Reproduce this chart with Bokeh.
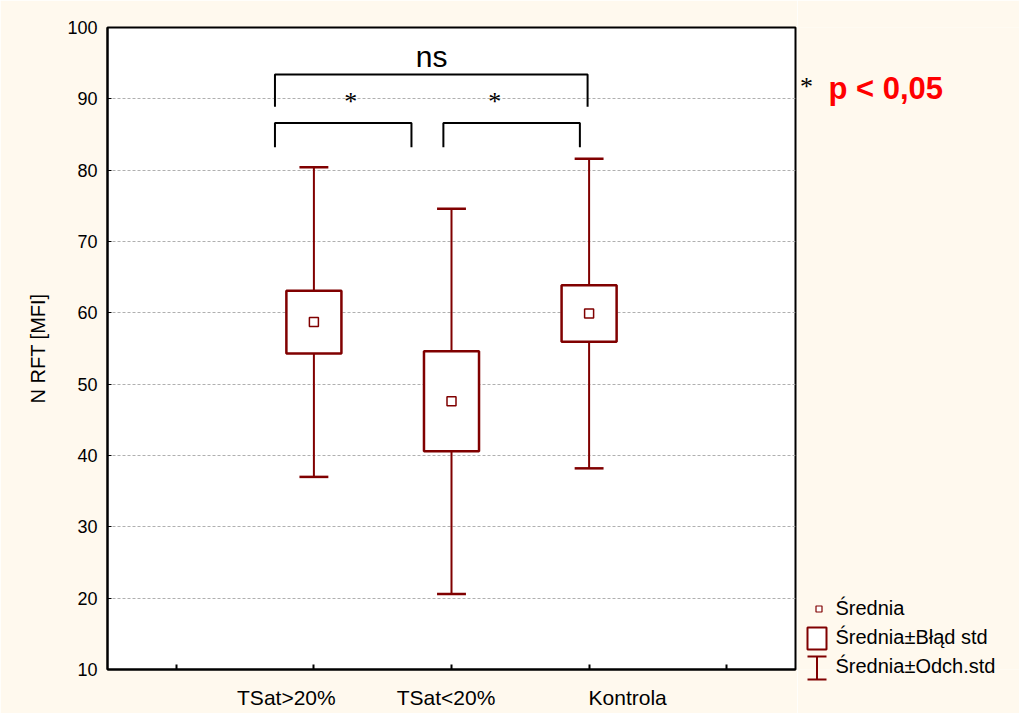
from bokeh.plotting import figure
from bokeh.models import FixedTicker, Range1d
from bokeh.layouts import row
from bokeh.core.properties import value
from bokeh.embed import file_html
from bokeh.resources import INLINE

# --- data -------------------------------------------------------------
groups = ["TSat>20%", "TSat<20%", "Kontrola"]
group_x = [2, 3, 4]                 # category positions on the x scale
means = [58.7, 47.6, 59.9]          # Średnia
se = [4.4, 7.0, 3.95]               # Błąd std
sd = [21.7, 27.0, 21.7]             # Odch. std

label_x = [1.80, 2.96, 4.28]        # where the category names are printed
minor_x = [1, 2, 3, 4, 5]
y_ticks = [10, 20, 30, 40, 50, 60, 70, 80, 90, 100]

# significance brackets (x, y in data units)
bracket_xs = [[1.717, 1.717, 3.989, 3.989],
              [1.717, 1.717, 2.709, 2.709],
              [2.941, 2.941, 3.933, 3.933]]
bracket_ys = [[88.9, 93.4, 93.4, 88.9],
              [83.2, 86.6, 86.6, 83.2],
              [83.2, 86.6, 86.6, 83.2]]
sig_text = ["ns", "*", "*"]
sig_x = [2.856, 2.267, 3.315]
sig_y = [96.0, 89.6, 89.6]

# --- style ------------------------------------------------------------
MAROON = "#800000"
CREAM = "#FFF9EE"
FONT = "Liberation Sans"
box_half = 0.2
cap_half = 0.105

lo_sd = [m - s for m, s in zip(means, sd)]
hi_sd = [m + s for m, s in zip(means, sd)]
lo_se = [m - s for m, s in zip(means, se)]
hi_se = [m + s for m, s in zip(means, se)]

p = figure(width=797, height=713, x_range=Range1d(0.5, 5.5), y_range=Range1d(10, 100),
           output_backend="svg", toolbar_location=None,
           min_border_left=107, min_border_right=2, min_border_top=27, min_border_bottom=44)
p.background_fill_color = "white"
p.border_fill_color = CREAM
p.outline_line_color = "black"
p.outline_line_width = 2

# axes
p.xaxis.ticker = FixedTicker(ticks=label_x, minor_ticks=minor_x)
p.xaxis.major_label_overrides = {x: g for x, g in zip(label_x, groups)}
p.xaxis.major_tick_in = 0
p.xaxis.major_tick_out = 0
p.xaxis.minor_tick_in = 5
p.xaxis.minor_tick_out = 0
p.xaxis.minor_tick_line_color = "black"
p.xaxis.minor_tick_line_width = 2
p.xaxis.axis_line_width = 2
p.xaxis.major_label_standoff = 16
p.xaxis.major_label_text_font = FONT
p.xaxis.major_label_text_font_size = "21px"
p.xaxis.major_label_text_color = "black"

p.yaxis.ticker = FixedTicker(ticks=y_ticks, minor_ticks=[])
p.yaxis.major_tick_in = 4
p.yaxis.major_tick_out = 0
p.yaxis.major_tick_line_width = 1
p.yaxis.axis_line_width = 2
p.yaxis.major_label_standoff = 10
p.yaxis.major_label_text_font = FONT
p.yaxis.major_label_text_font_size = "18px"
p.yaxis.major_label_text_color = "black"
p.yaxis.axis_label = "N RFT [MFI]"
p.yaxis.axis_label_text_font = FONT
p.yaxis.axis_label_text_font_size = "20px"
p.yaxis.axis_label_text_font_style = "normal"
p.yaxis.axis_label_text_color = "black"
p.yaxis.axis_label_standoff = 15

p.xgrid.visible = False
p.ygrid.ticker = FixedTicker(ticks=y_ticks)
p.ygrid.grid_line_color = "#b0b0b0"
p.ygrid.grid_line_dash = "3 2"
p.ygrid.grid_line_width = 1

# whiskers (mean ± SD) with caps
p.segment(x0=group_x, y0=lo_sd, x1=group_x, y1=hi_sd, line_color=MAROON, line_width=2)
cap_l = [x - cap_half for x in group_x]
cap_r = [x + cap_half for x in group_x]
p.segment(x0=cap_l, y0=hi_sd, x1=cap_r, y1=hi_sd, line_color=MAROON, line_width=2.5)
p.segment(x0=cap_l, y0=lo_sd, x1=cap_r, y1=lo_sd, line_color=MAROON, line_width=2.5)

# boxes (mean ± SE)
p.quad(left=[x - box_half for x in group_x], right=[x + box_half for x in group_x],
       bottom=lo_se, top=hi_se, fill_color="white", line_color=MAROON, line_width=2.5)

# means
p.scatter(x=group_x, y=means, marker="square", size=9, fill_color="white",
          line_color=MAROON, line_width=1.5)

# brackets and significance marks
p.multi_line(xs=bracket_xs, ys=bracket_ys, line_color="black", line_width=2)
p.text(x=sig_x[:1], y=sig_y[:1], text=sig_text[:1], text_font=value(FONT),
       text_font_size="30px", text_align="center", text_baseline="middle", text_color="black")
p.text(x=sig_x[1:], y=sig_y[1:], text=sig_text[1:], text_font=value("Liberation Serif"),
       text_font_size="26px", text_align="center", text_baseline="middle", text_color="black")

# --- right-hand panel: p-value note and legend --------------------------
# the panel's frame lines up with the main frame, so its y scale runs in page pixels;
# its marks sit on the overlay level so the legend may run below the frame edge
side = figure(width=222, height=713, x_range=Range1d(797, 1019), y_range=Range1d(669, 27),
              output_backend="svg", toolbar_location=None, min_border=0,
              min_border_top=27, min_border_bottom=44,
              x_axis_type=None, y_axis_type=None)
side.grid.visible = False
side.outline_line_color = None
side.background_fill_color = CREAM
side.border_fill_color = CREAM

side.text(x=[806], y=[86], text=["*"], text_font=value("Liberation Serif"),
          text_font_size="26px", text_align="center", text_baseline="middle",
          text_color="black", level="overlay")
side.text(x=[828], y=[88], text=["p < 0,05"], text_font=value(FONT), text_font_size="31px",
          text_font_style="bold", text_color="#FF0000", text_baseline="alphabetic",
          level="overlay")

# legend symbols
side.scatter(x=[818.5], y=[608.5], marker="square", size=6, fill_color="white",
             line_color=MAROON, line_width=1.2, level="overlay")
side.quad(left=[807], right=[826], top=[627], bottom=[649], fill_color="white",
          line_color=MAROON, line_width=2, level="overlay")
side.multi_line(xs=[[816.5, 816.5], [807, 826], [807, 826]],
                ys=[[656, 679], [656, 656], [679, 679]], line_color=MAROON, line_width=2,
                level="overlay")

legend_labels = ["Średnia", "Średnia±Błąd std", "Średnia±Odch.std"]
side.text(x=[835, 835, 835], y=[607, 636, 665], text=legend_labels, text_font=value(FONT),
          text_font_size="20px", text_color="black", text_baseline="alphabetic",
          level="overlay")

layout = row(p, side)
open("out.html", "w").write(file_html(layout, INLINE))
